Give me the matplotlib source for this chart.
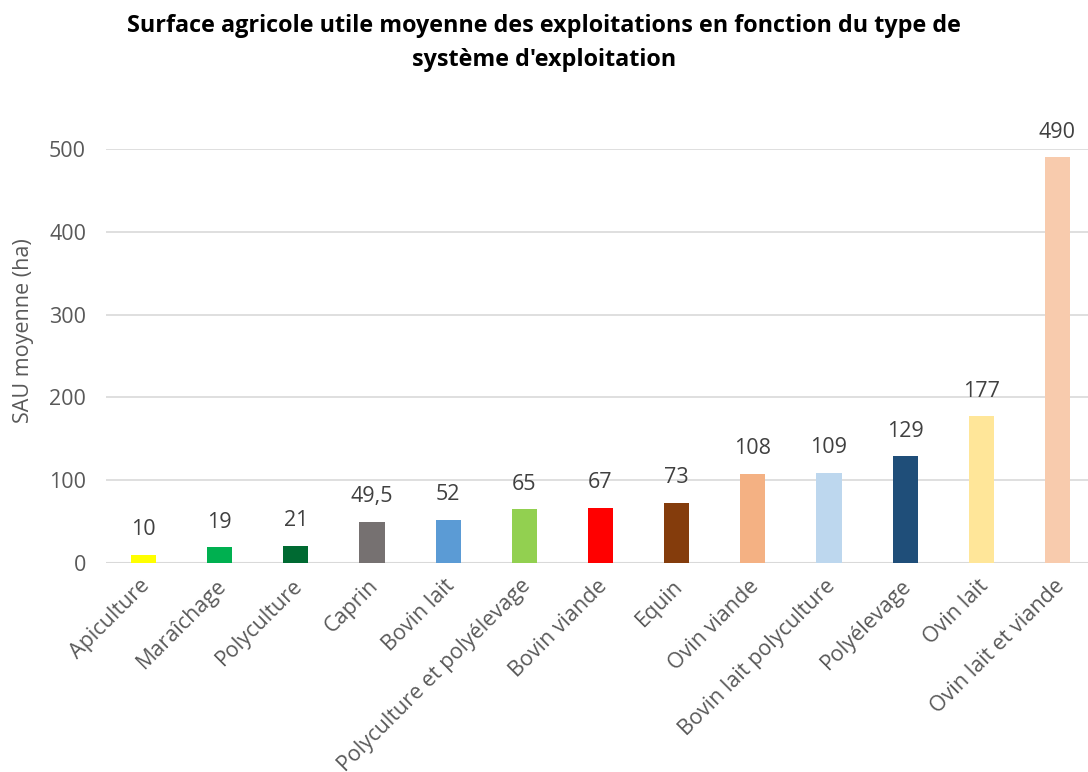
import matplotlib
matplotlib.use("Agg")
import matplotlib.pyplot as plt
import matplotlib.transforms as mtransforms
from matplotlib import font_manager

categories = ["Apiculture", "Maraîchage", "Polyculture", "Caprin", "Bovin lait",
              "Polyculture et polyélevage", "Bovin viande", "Equin", "Ovin viande",
              "Bovin lait polyculture", "Polyélevage", "Ovin lait", "Ovin lait et viande"]
values = [10, 19, 21, 49.5, 52, 65, 67, 73, 108, 109, 129, 177, 490]
colors = ["#FFFF00", "#00B050", "#006A32", "#767171", "#5B9BD5", "#92D050", "#FF0000",
          "#843C0C", "#F4B183", "#BDD7EE", "#1F4E79", "#FFE699", "#F8CBAD"]
yticks = [0, 100, 200, 300, 400, 500]

available = {f.name for f in font_manager.fontManager.ttflist}
body_font = "Open Sans" if "Open Sans" in available else "DejaVu Sans"
plt.rcParams["font.family"] = [body_font, "DejaVu Sans"]

text_grey = "#595959"
fig = plt.figure(figsize=(10.88, 7.72), dpi=100)
ax = fig.add_axes([105.5 / 1088, 209 / 772, 990 / 1088, 414 / 772])

x = list(range(len(categories)))
ax.bar(x, values, width=0.33, color=colors, zorder=3)

def fmt(v):
    return (f"{v:g}").replace(".", ",")

for xi, v in zip(x, values):
    ax.annotate(fmt(v), (xi, v), xytext=(0, 10.5), textcoords="offset points",
                ha="center", va="bottom", fontsize=15.5, color="#404040",
                annotation_clip=False)

ax.set_xlim(-0.5, len(categories) - 0.5)
ax.set_ylim(0, 500)
ax.set_yticks(yticks)
ax.set_yticklabels([str(t) for t in yticks], fontsize=15.5, color=text_grey)
ax.yaxis.grid(True, color="#D9D9D9", linewidth=1.2, zorder=0)
ax.set_axisbelow(True)
ax.tick_params(axis="y", length=0, pad=14)
ax.tick_params(axis="x", length=0, pad=9)
ax.set_xticks(x)
ax.set_xticklabels(categories, rotation=45, ha="right", va="top",
                   rotation_mode="anchor", fontsize=15.5, color=text_grey)
shift = mtransforms.ScaledTranslation(-4 / 100, 0, fig.dpi_scale_trans)
for lbl in ax.get_xticklabels():
    lbl.set_transform(lbl.get_transform() + shift)
for s in ax.spines.values():
    s.set_visible(False)
ax.axhline(0, color="#D9D9D9", linewidth=1.5, zorder=2)

ax.set_ylabel("SAU moyenne (ha)", fontsize=15.5, color=text_grey)
ax.yaxis.set_label_coords((34 - 105.5) / 990, (563 - 331) / 414)

fig.text(0.5, 1 - 26 / 772, "Surface agricole utile moyenne des exploitations en fonction du type de",
         ha="center", va="center", fontsize=16.8, fontweight="bold", color="black")
fig.text(0.5, 1 - 60 / 772, "système d'exploitation",
         ha="center", va="center", fontsize=16.8, fontweight="bold", color="black")

fig.savefig("out.png", dpi=100)
